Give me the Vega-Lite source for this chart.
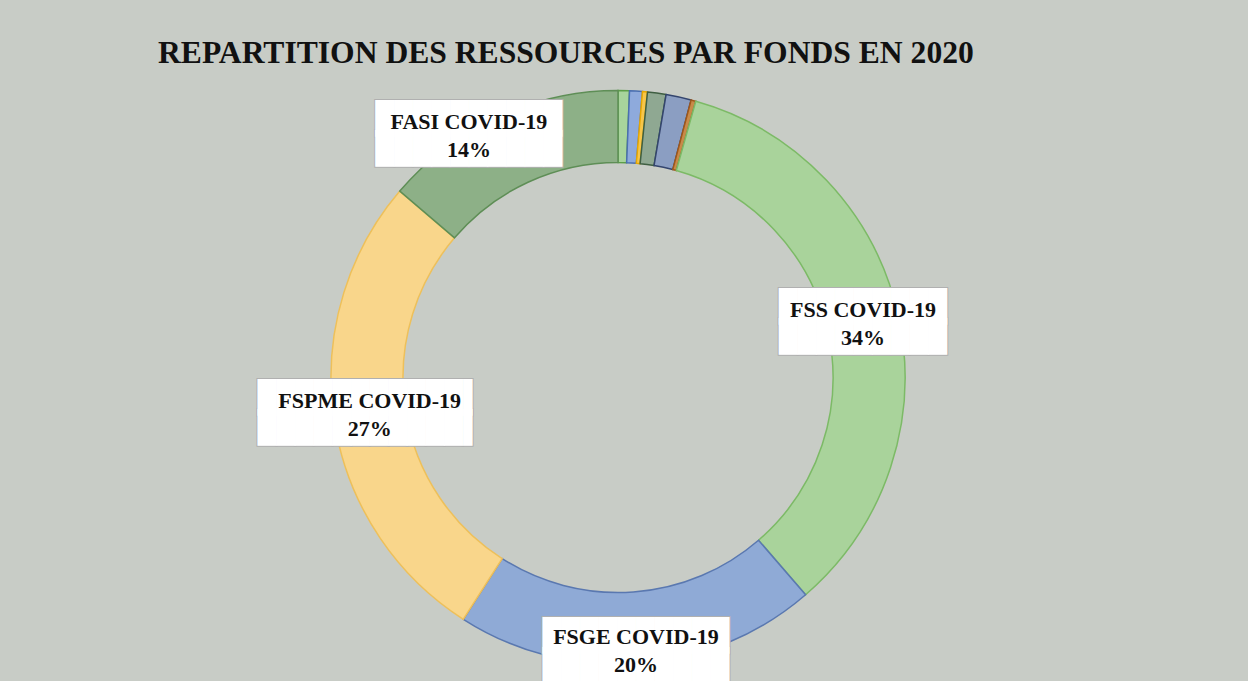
{
  "$schema": "https://vega.github.io/schema/vega-lite/v6.json",
  "width": 1248,
  "height": 681,
  "autosize": {"type": "fit", "contains": "padding"},
  "padding": {"top": 38, "left": 0, "right": 12, "bottom": 0},
  "background": "#c8ccc6",
  "title": {
    "text": "REPARTITION DES RESSOURCES PAR FONDS EN 2020",
    "font": "Liberation Serif",
    "fontSize": 31.6,
    "fontWeight": "bold",
    "color": "#111111",
    "anchor": "start",
    "frame": "group",
    "dx": 158,
    "offset": 4
  },
  "data": {
    "values": [
      {"fonds": "Fonds A", "part": 0.64, "ordre": 1, "etiquette": ""},
      {"fonds": "Fonds B", "part": 0.72, "ordre": 2, "etiquette": ""},
      {"fonds": "Fonds C", "part": 0.28, "ordre": 3, "etiquette": ""},
      {"fonds": "Fonds D", "part": 1.04, "ordre": 4, "etiquette": ""},
      {"fonds": "Fonds E", "part": 1.42, "ordre": 5, "etiquette": ""},
      {"fonds": "Fonds F", "part": 0.27, "ordre": 6, "etiquette": ""},
      {"fonds": "FSS COVID-19", "part": 34.3, "ordre": 7, "etiquette": "FSS COVID-19\n34%"},
      {"fonds": "FSGE COVID-19", "part": 20.4, "ordre": 8, "etiquette": "FSGE COVID-19\n20%"},
      {"fonds": "FSPME COVID-19", "part": 27.2, "ordre": 9, "etiquette": "FSPME COVID-19\n27%"},
      {"fonds": "FASI COVID-19", "part": 13.75, "ordre": 10, "etiquette": "FASI COVID-19\n14%"}
    ]
  },
  "encoding": {
    "theta": {"field": "part", "type": "quantitative", "stack": true},
    "order": {"field": "ordre", "type": "quantitative"}
  },
  "layer": [
    {
      "mark": {"type": "arc", "outerRadius": 287, "innerRadius": 215, "strokeWidth": 1.5},
      "encoding": {
        "fill": {
          "field": "fonds",
          "type": "nominal",
          "legend": null,
          "scale": {
            "domain": ["Fonds A", "Fonds B", "Fonds C", "Fonds D", "Fonds E", "Fonds F", "FSS COVID-19", "FSGE COVID-19", "FSPME COVID-19", "FASI COVID-19"],
            "range": ["#a8d49c", "#8eaadc", "#f7c64a", "#8fa892", "#8b9ec2", "#c88a4a", "#a9d39b", "#8faad6", "#f9d68b", "#8db087"]
          }
        },
        "stroke": {
          "field": "fonds",
          "type": "nominal",
          "legend": null,
          "scale": {
            "domain": ["Fonds A", "Fonds B", "Fonds C", "Fonds D", "Fonds E", "Fonds F", "FSS COVID-19", "FSGE COVID-19", "FSPME COVID-19", "FASI COVID-19"],
            "range": ["#5c9e48", "#4a6fb0", "#e8a800", "#3f5f42", "#34456e", "#a0581a", "#7cba66", "#5a78b0", "#eec05a", "#5e8e56"]
          }
        }
      }
    },
    {
      "mark": {
        "type": "text",
        "radius": 251,
        "font": "DejaVu Sans Mono",
        "fontSize": 31,
        "lineHeight": 30,
        "lineBreak": "\n",
        "baseline": "middle",
        "align": "center",
        "fill": "#b0b0b0",
        "stroke": "#b0b0b0",
        "strokeWidth": 2,
        "dx": {"expr": "datum.fonds == 'FASI COVID-19' ? -44 : 0"},
        "dy": {"expr": "datum.fonds == 'FASI COVID-19' ? -30 : datum.fonds == 'FSGE COVID-19' ? 9 : -15"}
      },
      "encoding": {
        "text": {
          "condition": [
            {"test": "!datum.etiquette", "value": ""},
            {"test": "datum.fonds == 'FSPME COVID-19'", "value": "███████████▌\n███████████▌"},
            {"test": "datum.fonds == 'FSS COVID-19'", "value": "█████████\n█████████"}
          ],
          "value": "██████████\n██████████"
        }
      }
    },
    {
      "mark": {
        "type": "text",
        "radius": 251,
        "font": "DejaVu Sans Mono",
        "fontSize": 31,
        "lineHeight": 30,
        "lineBreak": "\n",
        "baseline": "middle",
        "align": "center",
        "fill": "#ffffff",
        "dx": {"expr": "datum.fonds == 'FASI COVID-19' ? -44 : 0"},
        "dy": {"expr": "datum.fonds == 'FASI COVID-19' ? -30 : datum.fonds == 'FSGE COVID-19' ? 9 : -15"}
      },
      "encoding": {
        "text": {
          "condition": [
            {"test": "!datum.etiquette", "value": ""},
            {"test": "datum.fonds == 'FSPME COVID-19'", "value": "███████████▌\n███████████▌"},
            {"test": "datum.fonds == 'FSS COVID-19'", "value": "█████████\n█████████"}
          ],
          "value": "██████████\n██████████"
        }
      }
    },
    {
      "mark": {
        "type": "text",
        "radius": 251,
        "font": "Liberation Serif",
        "fontSize": 22,
        "fontWeight": "bold",
        "lineHeight": 28,
        "lineBreak": "\n",
        "baseline": "middle",
        "align": "center",
        "fill": "#111111",
        "dx": {"expr": "datum.fonds == 'FASI COVID-19' ? -44 : 0"},
        "dy": {"expr": "datum.fonds == 'FASI COVID-19' ? -28 : datum.fonds == 'FSGE COVID-19' ? 9 : -13"}
      },
      "encoding": {
        "text": {"field": "etiquette", "type": "nominal"}
      }
    }
  ],
  "config": {"view": {"stroke": null}}
}
